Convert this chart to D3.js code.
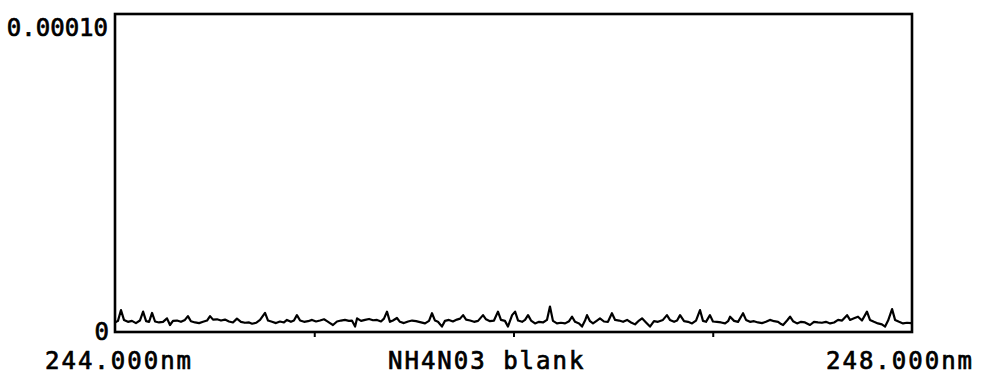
<!DOCTYPE html>
<html>
<head>
<meta charset="utf-8">
<script src="https://cdn.jsdelivr.net/npm/d3@7"></script>
<style>
  html, body { margin: 0; padding: 0; background: #fff; }
  svg { display: block; }
  text { font-family: "DejaVu Sans Mono", monospace; fill: #000; stroke: #000; stroke-width: 0.7px; font-size: 24px; }
  text.xlab { letter-spacing: 2px; }
</style>
</head>
<body>
<svg id="chart" width="1006" height="374"></svg>
<script>
// Scan window and labels
const xRangeNm = [244.0, 248.0];
const yRange = [0, 0.0001];
const yTickLabels = ["0", "0.00010"];
const xEndLabels = ["244.000nm", "248.000nm"];
const sampleName = "NH4N03 blank";
const minorTicksNm = [245, 246, 247];

// Wavelengths of the recorded trace (nm)
const wavelengths = [
  244.000, 244.015, 244.030, 244.045, 244.065, 244.085, 244.105, 244.125, 244.141, 244.156,
  244.171, 244.186, 244.201, 244.221, 244.241, 244.261, 244.276, 244.291, 244.311, 244.331,
  244.351, 244.366, 244.381, 244.402, 244.422, 244.442, 244.462, 244.477, 244.492, 244.512,
  244.532, 244.552, 244.572, 244.592, 244.612, 244.632, 244.652, 244.673, 244.688, 244.708,
  244.728, 244.753, 244.768, 244.788, 244.808, 244.828, 244.848, 244.863, 244.883, 244.898,
  244.913, 244.929, 244.949, 244.969, 244.989, 245.009, 245.029, 245.049, 245.064, 245.079,
  245.094, 245.114, 245.134, 245.154, 245.174, 245.189, 245.205, 245.215, 245.235, 245.255,
  245.275, 245.295, 245.315, 245.335, 245.350, 245.365, 245.380, 245.395, 245.415, 245.430,
  245.450, 245.471, 245.491, 245.511, 245.531, 245.556, 245.576, 245.591, 245.606, 245.621,
  245.641, 245.656, 245.676, 245.696, 245.716, 245.732, 245.747, 245.762, 245.782, 245.802,
  245.822, 245.847, 245.862, 245.882, 245.902, 245.922, 245.937, 245.957, 245.972, 245.993,
  246.008, 246.023, 246.043, 246.058, 246.073, 246.088, 246.108, 246.128, 246.148, 246.168,
  246.183, 246.198, 246.218, 246.238, 246.259, 246.279, 246.294, 246.309, 246.329, 246.344,
  246.359, 246.369, 246.384, 246.399, 246.419, 246.434, 246.454, 246.474, 246.494, 246.510,
  246.530, 246.550, 246.570, 246.590, 246.610, 246.630, 246.645, 246.665, 246.685, 246.705,
  246.725, 246.750, 246.770, 246.785, 246.806, 246.821, 246.836, 246.856, 246.876, 246.896,
  246.916, 246.936, 246.951, 246.966, 246.986, 247.001, 247.021, 247.042, 247.062, 247.077,
  247.087, 247.107, 247.127, 247.152, 247.167, 247.187, 247.207, 247.227, 247.247, 247.267,
  247.287, 247.308, 247.328, 247.343, 247.353, 247.373, 247.388, 247.403, 247.423, 247.443,
  247.463, 247.488, 247.508, 247.528, 247.548, 247.568, 247.589, 247.609, 247.629, 247.649,
  247.674, 247.689, 247.709, 247.729, 247.749, 247.774, 247.789, 247.809, 247.829, 247.849,
  247.865, 247.880, 247.900, 247.915, 247.935, 247.955, 247.975, 247.995, 248.000
];

// Absorbance of the blank, in units of 1e-6
const absorbanceMicro = [
  3.0, 3.5, 6.9, 3.8, 3.2, 3.5, 2.8, 3.6, 6.4, 3.4,
  3.2, 6.0, 3.3, 3.0, 3.2, 4.3, 2.2, 3.5, 3.6, 3.2,
  3.8, 5.0, 3.4, 3.0, 2.8, 3.2, 3.6, 5.0, 3.9, 4.0,
  3.6, 3.9, 3.3, 3.0, 4.2, 3.2, 2.9, 3.0, 2.6, 2.9,
  3.8, 6.0, 3.6, 3.2, 2.8, 3.3, 3.0, 3.8, 3.2, 3.6,
  5.3, 3.6, 3.2, 3.4, 3.8, 3.3, 3.6, 4.0, 3.4, 2.8,
  2.2, 3.3, 3.6, 3.8, 3.5, 3.6, 1.7, 4.3, 3.5, 3.8,
  4.1, 3.7, 3.8, 3.3, 4.2, 6.4, 3.2, 3.6, 4.4, 3.2,
  2.8, 3.3, 3.6, 3.4, 3.1, 2.7, 3.5, 5.9, 3.6, 3.2,
  1.7, 3.5, 3.8, 3.3, 3.9, 4.2, 5.3, 3.9, 3.6, 3.2,
  3.5, 5.3, 4.0, 3.4, 3.6, 6.4, 3.8, 3.5, 1.7, 5.3,
  6.4, 3.6, 3.2, 3.8, 5.3, 3.6, 2.7, 3.2, 3.0, 3.8,
  8.0, 3.5, 2.7, 2.9, 2.7, 3.4, 4.8, 3.2, 2.7, 1.7,
  3.6, 5.3, 3.4, 2.7, 3.6, 4.3, 3.3, 3.2, 5.9, 3.8,
  3.6, 3.2, 3.8, 3.0, 2.4, 3.6, 4.3, 3.0, 1.7, 3.4,
  3.2, 3.8, 5.3, 3.8, 3.2, 3.6, 5.3, 3.4, 3.2, 2.7,
  3.6, 6.9, 3.5, 3.2, 5.3, 3.3, 3.2, 3.0, 2.7, 3.4,
  4.8, 3.5, 3.2, 5.9, 3.8, 3.2, 3.4, 3.0, 2.8, 3.2,
  3.8, 3.4, 3.2, 2.5, 2.2, 3.6, 4.8, 3.4, 2.7, 3.2,
  3.0, 2.2, 3.2, 3.0, 2.9, 3.2, 2.7, 3.0, 3.8, 3.6,
  5.3, 3.8, 4.3, 4.8, 3.6, 6.4, 3.8, 3.2, 2.7, 2.4,
  1.7, 3.6, 7.2, 3.8, 3.2, 2.7, 2.9, 2.8, 2.8
];

const trace = wavelengths.map((w, i) => ({ w, a: absorbanceMicro[i] * 1e-6 }));

const svg = d3.select("#chart");
const plot = { left: 115, right: 912, top: 14, bottom: 332 };

const x = d3.scaleLinear().domain(xRangeNm).range([plot.left, plot.right]);
const y = d3.scaleLinear().domain(yRange).range([plot.bottom, plot.top]);

// Bottom axis: short downward ticks at each whole nanometre
const xAxis = d3.axisBottom(x).tickValues(minorTicksNm).tickSize(5).tickFormat("");
svg.append("g")
  .attr("transform", `translate(0,${plot.bottom})`)
  .call(xAxis)
  .call(g => g.select(".domain").remove())
  .call(g => g.selectAll("line").attr("stroke", "#000").attr("stroke-width", 2));

// Frame
svg.append("rect")
  .attr("x", x(xRangeNm[0]))
  .attr("y", y(yRange[1]))
  .attr("width", x(xRangeNm[1]) - x(xRangeNm[0]))
  .attr("height", y(yRange[0]) - y(yRange[1]))
  .attr("fill", "none")
  .attr("stroke", "#000")
  .attr("stroke-width", 2.6);

// Trace
const line = d3.line().x(d => x(d.w)).y(d => y(d.a));
svg.append("path")
  .datum(trace)
  .attr("d", line)
  .attr("fill", "none")
  .attr("stroke", "#000")
  .attr("stroke-width", 2.2)
  .attr("stroke-linejoin", "round");

// Y labels
svg.append("text")
  .attr("x", plot.left - 7).attr("y", y(yRange[1]) + 22)
  .attr("text-anchor", "end")
  .text(yTickLabels[1]);
svg.append("text")
  .attr("x", plot.left - 6).attr("y", y(yRange[0]) + 8)
  .attr("text-anchor", "end")
  .text(yTickLabels[0]);

// X labels
svg.append("text").attr("class", "xlab")
  .attr("x", 45).attr("y", 369)
  .attr("text-anchor", "start")
  .text(xEndLabels[0]);
svg.append("text").attr("class", "xlab")
  .attr("x", 388).attr("y", 369)
  .attr("text-anchor", "start")
  .text(sampleName);
svg.append("text").attr("class", "xlab")
  .attr("x", 826).attr("y", 369)
  .attr("text-anchor", "start")
  .text(xEndLabels[1]);
</script>
</body>
</html>
